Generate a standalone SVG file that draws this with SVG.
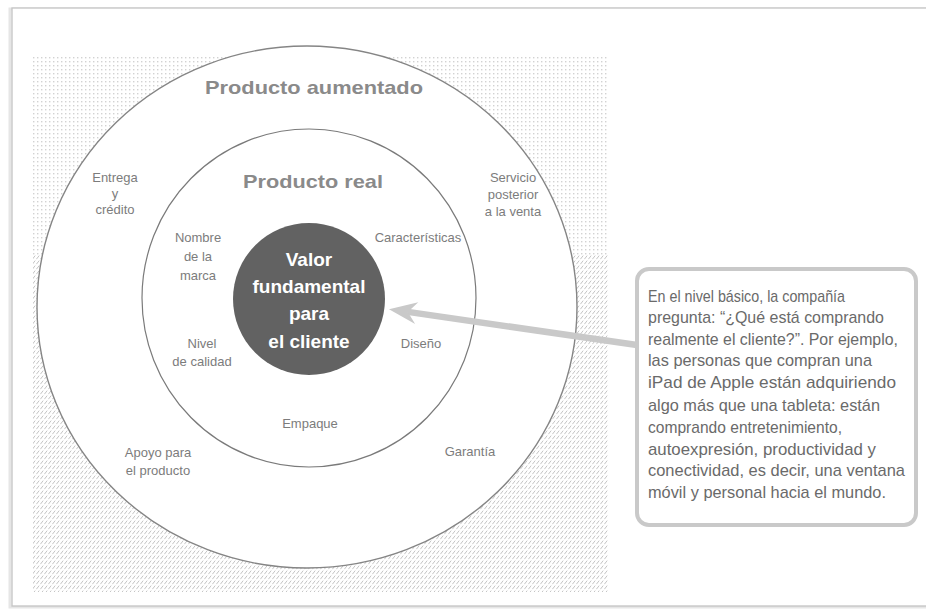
<svg xmlns="http://www.w3.org/2000/svg" width="926" height="609" viewBox="0 0 926 609">
  <defs>
    <style>
      .ring-outer { fill: #ffffff; stroke: #858585; stroke-width: 1.4; }
      .ring-inner { fill: #ffffff; stroke: #7a7a7a; stroke-width: 1.2; }
      .title { font-family: "Liberation Sans", Arial, sans-serif; font-weight: bold; font-size: 19px; fill: #8a8a8a; text-anchor: middle; }
      .core-text { font-family: "Liberation Sans", Arial, sans-serif; font-weight: bold; font-size: 19px; fill: #ffffff; text-anchor: middle; }
      .label { font-family: "Liberation Sans", Arial, sans-serif; font-size: 13px; fill: #7c7c7c; text-anchor: middle; }
      .note { font-family: "Liberation Sans", Arial, sans-serif; font-size: 17px; fill: #6a6a6a; }
      .connector { fill: none; stroke: #c9c9c9; stroke-width: 6.5; }
    </style>
    <pattern id="dots" width="4" height="4" patternUnits="userSpaceOnUse">
      <rect x="1" y="1" width="1.4" height="1.4" fill="#d2d2d2"/>
    </pattern>
    <pattern id="hatch" width="4" height="5" patternUnits="userSpaceOnUse">
      <line x1="0.4" y1="4.2" x2="3.2" y2="0.6" stroke="#bdbdbd" stroke-width="0.9"/>
    </pattern>
    <marker id="arrowhead" markerUnits="userSpaceOnUse" viewBox="-30 -14 32 28" markerWidth="32" markerHeight="28" refX="-19" refY="0" orient="auto">
      <path d="M0,0 L-28,-11 L-19,0 L-28,11 Z" fill="#c9c9c9"/>
    </marker>
  </defs>

  <!-- page -->
  <rect x="0" y="0" width="926" height="609" fill="#ffffff"/>
  <rect x="10" y="9" width="930" height="598" fill="none" stroke="#e6e6e6" stroke-width="3"/>
  <rect x="12" y="8" width="930" height="598" fill="#ffffff" stroke="#c4c4c4" stroke-width="1.3"/>

  <!-- textured backdrop behind the rings -->
  <rect x="33" y="55" width="575" height="200" fill="url(#dots)"/>
  <rect x="33" y="255" width="575" height="337" fill="url(#hatch)"/>

  <!-- rings -->
  <g id="producto-aumentado">
    <ellipse class="ring-outer" cx="307" cy="307" rx="270" ry="261"/>
    <text class="title" x="314" y="94" textLength="218" lengthAdjust="spacingAndGlyphs">Producto aumentado</text>
  </g>
  <g id="producto-real">
    <ellipse class="ring-inner" cx="309" cy="298" rx="167" ry="169"/>
    <text class="title" x="313" y="188" textLength="140" lengthAdjust="spacingAndGlyphs">Producto real</text>
  </g>
  <g id="valor-fundamental">
    <circle cx="309" cy="299" r="76" fill="#626262"/>
    <text class="core-text" x="309" y="266">Valor</text>
    <text class="core-text" x="309" y="293">fundamental</text>
    <text class="core-text" x="309" y="320">para</text>
    <text class="core-text" x="309" y="348">el cliente</text>
  </g>

  <!-- ring labels -->
  <g id="entrega-credito">
    <text class="label" x="115" y="182">Entrega</text>
    <text class="label" x="115" y="198">y</text>
    <text class="label" x="115" y="214">crédito</text>
  </g>
  <g id="servicio-posterior">
    <text class="label" x="513" y="182">Servicio</text>
    <text class="label" x="513" y="199">posterior</text>
    <text class="label" x="513" y="216">a la venta</text>
  </g>
  <g id="nombre-marca">
    <text class="label" x="198" y="242">Nombre</text>
    <text class="label" x="198" y="261">de la</text>
    <text class="label" x="198" y="280">marca</text>
  </g>
  <g id="caracteristicas">
    <text class="label" x="418" y="242">Características</text>
  </g>
  <g id="nivel-calidad">
    <text class="label" x="202" y="348">Nivel</text>
    <text class="label" x="202" y="366">de calidad</text>
  </g>
  <g id="diseno">
    <text class="label" x="421" y="348">Diseño</text>
  </g>
  <g id="empaque">
    <text class="label" x="310" y="428">Empaque</text>
  </g>
  <g id="apoyo-producto">
    <text class="label" x="158" y="457">Apoyo para</text>
    <text class="label" x="158" y="475">el producto</text>
  </g>
  <g id="garantia">
    <text class="label" x="470" y="456">Garantía</text>
  </g>

  <!-- connectors -->
  <g id="connectors">
    <path class="connector" d="M637,345 L407.8,311.9" marker-end="url(#arrowhead)"/>
  </g>

  <!-- explanatory note -->
  <g id="nota">
    <rect x="637" y="269" width="279" height="256" rx="12" ry="12" fill="#ffffff" stroke="#c9c9c9" stroke-width="4"/>
    <text class="note" x="648" y="302" textLength="197" lengthAdjust="spacingAndGlyphs">En el nivel básico, la compañía</text>
    <text class="note" x="648" y="323" textLength="236" lengthAdjust="spacingAndGlyphs">pregunta: “¿Qué está comprando</text>
    <text class="note" x="648" y="345" textLength="250" lengthAdjust="spacingAndGlyphs">realmente el cliente?”. Por ejemplo,</text>
    <text class="note" x="648" y="366" textLength="224" lengthAdjust="spacingAndGlyphs">las personas que compran una</text>
    <text class="note" x="648" y="388" textLength="248" lengthAdjust="spacingAndGlyphs">iPad de Apple están adquiriendo</text>
    <text class="note" x="648" y="411" textLength="232" lengthAdjust="spacingAndGlyphs">algo más que una tableta: están</text>
    <text class="note" x="648" y="433" textLength="194" lengthAdjust="spacingAndGlyphs">comprando entretenimiento,</text>
    <text class="note" x="648" y="455" textLength="228" lengthAdjust="spacingAndGlyphs">autoexpresión, productividad y</text>
    <text class="note" x="648" y="476" textLength="257" lengthAdjust="spacingAndGlyphs">conectividad, es decir, una ventana</text>
    <text class="note" x="648" y="498" textLength="238" lengthAdjust="spacingAndGlyphs">móvil y personal hacia el mundo.</text>
  </g>
</svg>
